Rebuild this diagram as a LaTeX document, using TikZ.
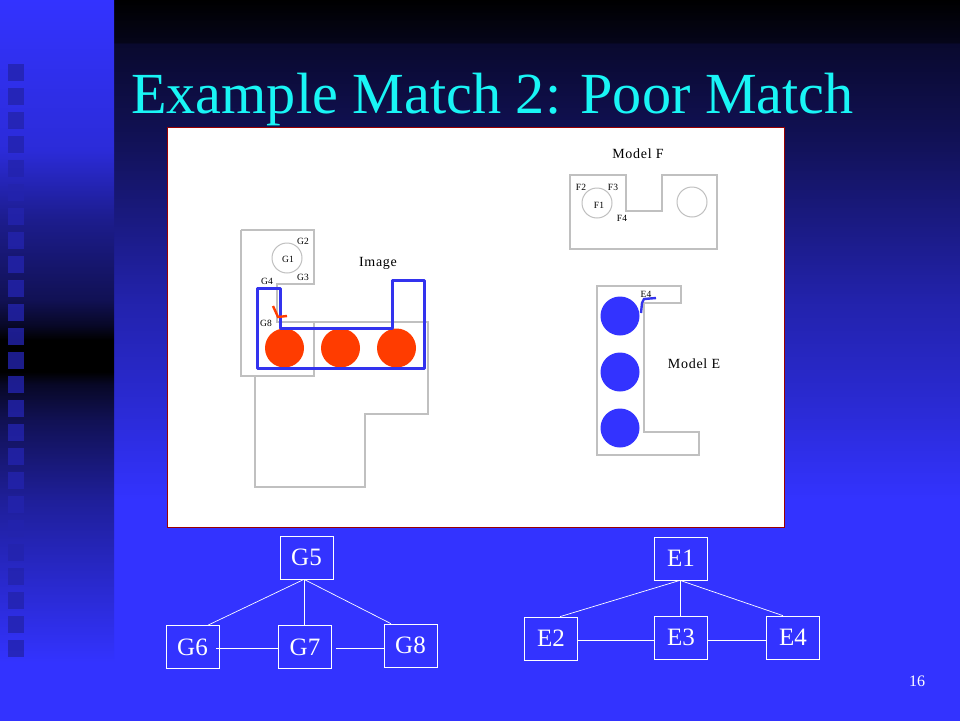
\documentclass[tikz,border=0pt]{standalone}
\usepackage{fontspec}
\setmainfont{Liberation Serif}
\newfontfamily\sketchfont[LetterSpace=5]{Liberation Serif}
\usetikzlibrary{positioning}
\definecolor{slideblue}{HTML}{3333FF}
\definecolor{markblue}{HTML}{3333EE}
\definecolor{markred}{HTML}{FF3C00}
\definecolor{sketchgray}{HTML}{C0C0C0}
\definecolor{titlecyan}{HTML}{19F5F5}
% stops run bottom to top, the picture height maps onto 25bp..75bp
\pgfdeclareverticalshading{leftband}{100bp}{
  color(0bp)=(slideblue); color(29bp)=(slideblue);
  color(40.3bp)=(slideblue!60!black); color(45.8bp)=(slideblue!33!black);
  color(48.3bp)=(slideblue!15!black); color(49.2bp)=(black); color(51.4bp)=(black);
  color(52.4bp)=(slideblue!15!black); color(54.2bp)=(slideblue!33!black);
  color(59.7bp)=(slideblue!55!black); color(64.6bp)=(slideblue!85!black);
  color(75bp)=(slideblue); color(100bp)=(slideblue)}
\pgfdeclareverticalshading{mainband}{100bp}{
  color(0bp)=(slideblue); color(40.3bp)=(slideblue);
  color(47.2bp)=(slideblue!82!black); color(54.2bp)=(slideblue!67!black);
  color(65.6bp)=(slideblue!33!black); color(72bp)=(slideblue!18!black);
  color(72.02bp)=(slideblue!10!black); color(75bp)=(black); color(100bp)=(black)}
\tikzset{
  sketch/.style={draw=sketchgray, line width=1.3pt},
  tinytext/.style={font=\fontsize{9.5}{10}\selectfont, text=black, inner sep=0pt},
  modeltext/.style={font=\sketchfont\fontsize{14}{15}\selectfont, text=black, inner sep=0pt},
  matchline/.style={draw=markblue, line width=3pt, line join=round, line cap=round},
  partbox/.style={draw=white, line width=0.7pt, minimum width=53pt, minimum height=43pt,
    inner sep=0pt, text=white, font=\fontsize{25}{26}\selectfont},
  edgeline/.style={draw=white, line width=0.7pt},
  spot/.style={circle, minimum size=39pt, inner sep=0pt}
}
\begin{document}
\begin{tikzpicture}[x=1pt,y=-1pt]
  \useasboundingbox (0,0) rectangle (960,720);
  % slide background
  \shade[shading=mainband] (114,0) rectangle (960,720);
  \shade[shading=leftband] (0,0) rectangle (114,720);
  \foreach \k in {0,...,24}
    \fill[fill=slideblue!68!black, opacity=0.8] (8,72+24*\k-8) rectangle (24,72+24*\k+9);
  \node[anchor=base west, inner sep=0pt, text=titlecyan, font=\fontsize{58.2}{60}\selectfont]
    (title) at (131,113) {Example Match 2: Poor Match};
  % white panel
  \draw[draw=red!60!black, line width=1pt, fill=white] (167.5,127.5) rectangle (784.5,527);
  % image outline
  \draw[sketch] (241,230) -- (314,230) -- (314,284) -- (277,284) -- (277,322) -- (428,322)
    -- (428,414) -- (365,414) -- (365,487) -- (255,487) -- (255,376);
  \draw[sketch] (314,322) -- (314,376) -- (241,376) -- (241,230);
  \draw[sketch, line width=1pt] (287,258) circle (15);
  \node[tinytext] (g1) at (288,259) {G1};
  \node[tinytext] (g2) at (303,241) {G2};
  \node[tinytext] (g3) at (303,277) {G3};
  \node[tinytext] (g4) at (267,281) {G4};
  \node[tinytext] (g8) at (266,323) {G8};
  \node[modeltext] (image) at (378,263) {Image};
  \foreach \cx/\name in {284.5/ra,340.5/rb,396.5/rc}
    \node[spot, fill=markred] (\name) at (\cx,348) {};
  \draw[matchline] (257,288) -- (280,288) -- (280,328) -- (392,328) -- (392,280) -- (424,280)
    -- (424,368) -- (257,368) -- cycle;
  \draw[draw=markred, line width=2.4pt] (273,306) -- (278,317) -- (287,316);
  % model F
  \draw[sketch] (570,175) -- (626,175) -- (626,211) -- (662,211) -- (662,175) -- (717,175)
    -- (717,249) -- (570,249) -- cycle;
  \draw[sketch, line width=1pt] (597,203) circle (15);
  \draw[sketch, line width=1pt] (692,202) circle (15);
  \node[modeltext] (modelf) at (638,154) {Model F};
  \node[tinytext] (f1) at (599,205) {F1};
  \node[tinytext] (f2) at (581,187) {F2};
  \node[tinytext] (f3) at (613,187) {F3};
  \node[tinytext] (f4) at (622,218) {F4};
  % model E
  \draw[sketch] (597,286) -- (681,286) -- (681,303) -- (644,303) -- (644,432) -- (699,432)
    -- (699,455) -- (597,455) -- cycle;
  \node[modeltext] (modele) at (694,364) {Model E};
  \node[tinytext] (e4) at (646,294) {E4};
  \foreach \cy/\name in {316/ba,372/bb,428/bc}
    \node[spot, fill=slideblue] (\name) at (620,\cy) {};
  \draw[draw=markblue, line width=2.4pt] (641,313) -- (642,303) -- (644,299) -- (656,298);
  % G graph
  \node[partbox] (G5) at (306.5,557.5) {G5};
  \node[partbox] (G6) at (192.5,647) {G6};
  \node[partbox] (G7) at (305,647) {G7};
  \node[partbox] (G8) at (410.5,645.5) {G8};
  \draw[edgeline] ([xshift=-2.5pt]G5.south) -- ([xshift=15.5pt]G6.north);
  \draw[edgeline] ([xshift=-2.5pt]G5.south) -- ([xshift=-1pt]G7.north);
  \draw[edgeline] ([xshift=-2.5pt]G5.south) -- ([xshift=-19.5pt]G8.north);
  \draw[edgeline] ([xshift=-3pt,yshift=-1pt]G6.east) -- ([yshift=-1pt]G7.west);
  \draw[edgeline] ([xshift=4pt,yshift=-1pt]G7.east) -- ([yshift=-2.5pt]G8.west);
  % E graph
  \node[partbox] (E1) at (681,558.5) {E1};
  \node[partbox] (E2) at (551,638.5) {E2};
  \node[partbox] (E3) at (681,637.5) {E3};
  \node[partbox] (E4) at (793,637.5) {E4};
  \draw[edgeline] ([xshift=-1pt]E1.south) -- ([xshift=9pt]E2.north);
  \draw[edgeline] ([xshift=-1pt]E1.south) -- ([xshift=-1pt]E3.north);
  \draw[edgeline] ([xshift=-1pt]E1.south) -- ([xshift=-10pt]E4.north);
  \draw[edgeline] ([yshift=-1.5pt]E2.east) -- ([yshift=-2.5pt]E3.west);
  \draw[edgeline] ([yshift=-2.5pt]E3.east) -- ([yshift=-2.5pt]E4.west);
  \node[inner sep=0pt, text=white, font=\fontsize{16}{17}\selectfont] (pagenum) at (917,681) {16};
\end{tikzpicture}
\end{document}
